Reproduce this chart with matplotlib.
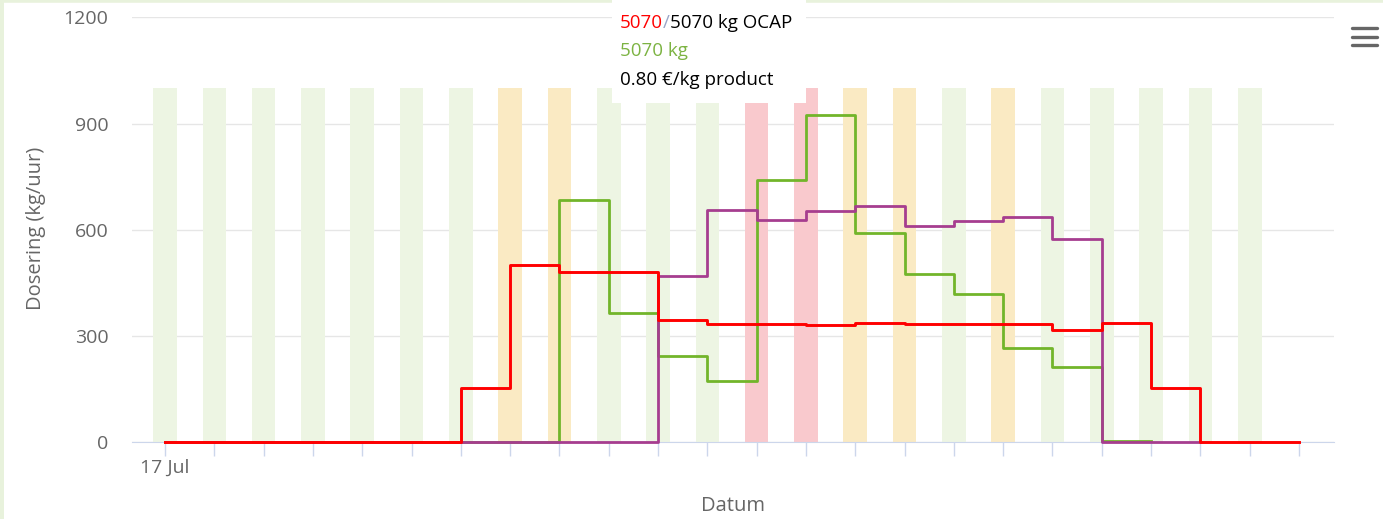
import matplotlib.pyplot as plt
from matplotlib.patches import Rectangle
from matplotlib.lines import Line2D
from matplotlib.text import Annotation

plt.rcParams['font.family'] = ['Open Sans', 'DejaVu Sans']

# hourly steps starting 17 Jul 00:00
hours = list(range(24))
tick_labels = ['17 Jul'] + [''] * 23

# dosing per hour (kg/uur), step starts at the hour
ocap = [0, 0, 0, 0, 0, 0, 152, 500, 482, 482, 346, 335, 335, 331, 336, 333,
        333, 333, 318, 337, 152, 0, 0, 0]
product = [0, 0, 0, 0, 0, 0, 0, 0, 683, 366, 245, 174, 742, 924, 591, 474,
           418, 265, 213, 4, 4]
other = [0, 0, 0, 0, 0, 0, 0, 0, 0, 0, 470, 657, 628, 654, 667, 612, 626,
         636, 574, 0, 0, 0]

# background status per hour: g = ok, o = warning, r = alarm
band_status = ['g', 'g', 'g', 'g', 'g', 'g', 'g', 'o', 'o', 'g', 'g', 'g',
               'r', 'r', 'o', 'o', 'g', 'o', 'g', 'g', 'g', 'g', 'g']
band_height = 1000
band_colors = {'g': '#edf5e3', 'o': '#faeac3', 'r': '#f9c9cd'}

W, H = 1383, 519
fig = plt.figure(figsize=(W / 100, H / 100), dpi=100)
ax = fig.add_axes([132 / W, 1 - 442.3 / H, (1334 - 132) / W, (442.3 - 17.3) / H])

ax.set_axisbelow(True)
ax.grid(axis='y', color='#e6e6e6', linewidth=1.0)

# status bands
ax.bar(hours[:len(band_status)], [band_height] * len(band_status), width=0.48,
       color=[band_colors[s] for s in band_status], zorder=1.5)

ax.step(hours[:len(product)], product, where='post', color='#72b52a', lw=2.0,
        zorder=3, clip_on=False)
ax.step(hours[:len(other)], other, where='post', color='#a63d8f', lw=2.0,
        zorder=3, clip_on=False)
ax.step(hours[:len(ocap)], ocap, where='post', color='#ff0000', lw=2.1,
        zorder=3, clip_on=False)

ax.set_xlim(-0.67, 23.71)
ax.set_ylim(0, 1200)
ax.set_yticks([0, 300, 600, 900, 1200])
ax.set_xticks(hours)
ax.set_xticklabels(tick_labels)

for s in ['top', 'right', 'left']:
    ax.spines[s].set_visible(False)
ax.spines['bottom'].set_color('#ccd6eb')
ax.spines['bottom'].set_zorder(1.8)
ax.tick_params(axis='x', length=10, color='#ccd6eb', width=1, pad=2,
               labelsize=14, labelcolor='#666666')
ax.tick_params(axis='y', length=0, pad=17, labelsize=14, labelcolor='#666666')

ax.set_xlabel('Datum', fontsize=14.5, color='#666666')
ax.xaxis.set_label_coords(0.5, -0.126)
ax.set_ylabel('Dosering (kg/uur)', fontsize=14.5, color='#666666')
ax.yaxis.set_label_coords(-0.0716, 0.504)

# tooltip box
fig.add_artist(Rectangle((612 / W, 1 - 103 / H), (806 - 612) / W, 103 / H,
                         transform=fig.transFigure, facecolor='white',
                         edgecolor='none', zorder=5))
t1 = fig.text(620 / W, 1 - 23 / H, '5070', color='#ff0000', fontsize=13.5,
              va='center', ha='left', zorder=6)
t2 = Annotation('/', xy=(1, 0), xycoords=t1, va='bottom', ha='left',
                color='#9aa6c8', fontsize=13.5, zorder=6)
fig.add_artist(t2)
t3 = Annotation('5070 kg OCAP', xy=(1, 0), xycoords=t2, va='bottom', ha='left',
                color='black', fontsize=13.5, zorder=6)
fig.add_artist(t3)
fig.text(620 / W, 1 - 51 / H, '5070 kg', color='#7cb342', fontsize=13.5,
         va='center', ha='left', zorder=6)
fig.text(620 / W, 1 - 80 / H, '0.80 €/kg product', color='black', fontsize=13.5,
         va='center', ha='left', zorder=6)

# context menu icon
for y in (28.3, 36.7, 45):
    fig.add_artist(Line2D([1352 / W, 1377 / W], [1 - y / H, 1 - y / H],
                          transform=fig.transFigure, color='#666666', lw=2.4,
                          solid_capstyle='round'))

# light green frame at top and left
fig.add_artist(Line2D([0, 1], [1, 1], transform=fig.transFigure,
                      color='#e8f2dc', lw=4))
fig.add_artist(Line2D([0, 0], [0, 1], transform=fig.transFigure,
                      color='#e8f2dc', lw=5))

fig.savefig('out.png', dpi=100)
